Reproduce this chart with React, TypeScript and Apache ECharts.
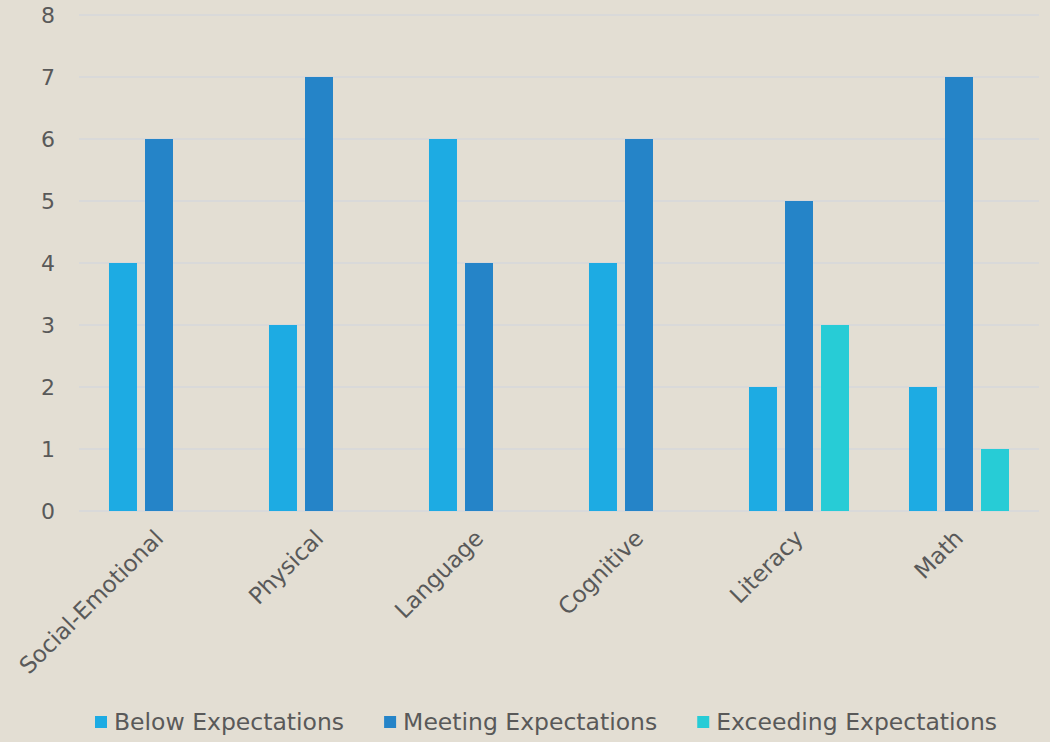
import React, { useEffect, useRef } from "react";
import * as echarts from "echarts";

const categories = ["Social-Emotional", "Physical", "Language", "Cognitive", "Literacy", "Math"];
const belowExpectations = [4, 3, 6, 4, 2, 2];
const meetingExpectations = [6, 7, 4, 6, 5, 7];
const exceedingExpectations = [null, null, null, null, 3, 1];
const yTicks = { min: 0, max: 8, interval: 1 };

const FONT = "'DejaVu Sans', sans-serif";
const TEXT = "#595959";

export default function App() {
  const ref = useRef<HTMLDivElement>(null);
  useEffect(() => {
    document.body.style.margin = "0";
    const chart = echarts.init(ref.current!, undefined, { renderer: "svg" });
    chart.setOption({
      animation: false,
      backgroundColor: "#e3ded3",
      textStyle: { fontFamily: FONT },
      grid: { left: 79, top: 15, width: 960, height: 496, containLabel: false },
      legend: {
        bottom: 3,
        left: 90,
        itemWidth: 12,
        itemHeight: 12,
        itemGap: 40,
        icon: "rect",
        textStyle: { color: TEXT, fontSize: 23.5, fontFamily: FONT, padding: [0, 0, 0, 2] },
        data: ["Below Expectations", "Meeting Expectations", "Exceeding Expectations"],
      },
      xAxis: {
        type: "category",
        data: categories,
        axisLine: { show: false },
        axisTick: { show: false },
        axisLabel: { rotate: 45, color: TEXT, fontSize: 23, margin: 23, interval: 0, fontFamily: FONT },
      },
      yAxis: {
        type: "value",
        min: yTicks.min,
        max: yTicks.max,
        interval: yTicks.interval,
        axisLine: { show: false },
        axisTick: { show: false },
        axisLabel: { color: TEXT, fontSize: 22, margin: 24, fontFamily: FONT },
        splitLine: { lineStyle: { color: "#d9d9d9", width: 2 } },
      },
      series: [
        {
          name: "Below Expectations",
          type: "bar",
          data: belowExpectations,
          barWidth: 28,
          barGap: "28.6%",
          itemStyle: { color: "#1dabe3" },
        },
        {
          name: "Meeting Expectations",
          type: "bar",
          data: meetingExpectations,
          barWidth: 28,
          barGap: "28.6%",
          itemStyle: { color: "#2584c8" },
        },
        {
          name: "Exceeding Expectations",
          type: "bar",
          data: exceedingExpectations,
          barWidth: 28,
          barGap: "28.6%",
          itemStyle: { color: "#27ccd6" },
        },
      ],
    });
    return () => chart.dispose();
  }, []);
  return <div ref={ref} style={{ width: 1050, height: 742 }} />;
}
